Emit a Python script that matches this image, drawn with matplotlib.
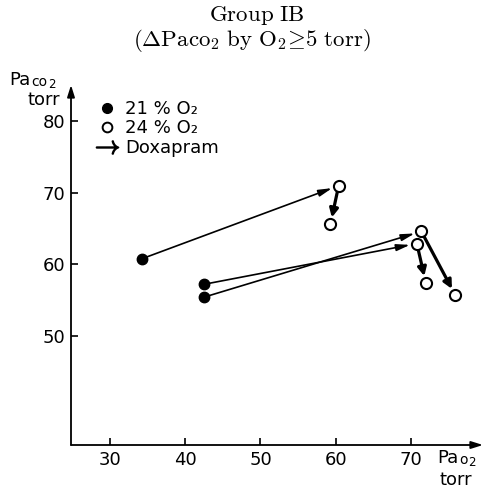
import matplotlib
matplotlib.use('Agg')
import matplotlib.pyplot as plt
from matplotlib.lines import Line2D

plt.rcParams['font.family'] = ['DejaVu Sans']
plt.rcParams['mathtext.fontset'] = 'cm'

# PaO2 / PaCO2 (torr)
pao2_21 = [34.3, 42.5, 42.5]
paco2_21 = [60.8, 57.2, 55.4]
pao2_24 = [60.4, 70.8, 71.4]
paco2_24 = [71.0, 62.9, 64.6]
pao2_doxa = [59.3, 72.0, 75.9]
paco2_doxa = [65.6, 57.4, 55.7]

xticks = [30, 40, 50, 60, 70]
yticks = [50, 60, 70, 80]

fig = plt.figure(figsize=(4.86, 4.90), dpi=100)
ax = fig.add_axes([71 / 486, 1 - 445 / 490, 412 / 486, 360 / 490])
ax.set_xlim(24.8, 79.6)
ax.set_ylim(34.7, 85.1)

for s in ['top', 'right', 'left', 'bottom']:
    ax.spines[s].set_visible(False)
# axes drawn as arrows
ax.annotate('', xy=(1, 0), xytext=(0, 0), xycoords='axes fraction',
            arrowprops=dict(arrowstyle='-|>,head_length=0.7,head_width=0.22',
                            lw=1.3, color='black', shrinkA=0, shrinkB=0))
ax.annotate('', xy=(0, 1), xytext=(0, 0), xycoords='axes fraction',
            arrowprops=dict(arrowstyle='-|>,head_length=0.7,head_width=0.22',
                            lw=1.3, color='black', shrinkA=0, shrinkB=0))

ax.set_xticks(xticks)
ax.set_yticks(yticks)
ax.tick_params(direction='in', length=5, width=1.2, labelsize=13, pad=4)

# thin arrows: 21% -> 24% O2, thick arrows: doxapram
for i in range(len(pao2_21)):
    ax.annotate('', xy=(pao2_24[i], paco2_24[i]), xytext=(pao2_21[i], paco2_21[i]),
                arrowprops=dict(arrowstyle='-|>,head_length=0.8,head_width=0.2',
                                lw=1.2, color='black', shrinkA=3, shrinkB=5), zorder=2)
    ax.annotate('', xy=(pao2_doxa[i], paco2_doxa[i]), xytext=(pao2_24[i], paco2_24[i]),
                arrowprops=dict(arrowstyle='-|>,head_length=0.5,head_width=0.25',
                                lw=2.3, color='black', shrinkA=4, shrinkB=5), zorder=2)

ax.plot(pao2_21, paco2_21, 'o', color='black', markersize=7.5, zorder=3, clip_on=False)
ax.plot(pao2_24 + pao2_doxa, paco2_24 + paco2_doxa, 'o', markerfacecolor='white',
        markeredgecolor='black', markeredgewidth=1.5, markersize=8, zorder=3, clip_on=False)

handles = [
    Line2D([], [], ls='none', marker='o', color='black', markersize=7),
    Line2D([], [], ls='none', marker='o', markerfacecolor='white',
           markeredgecolor='black', markeredgewidth=1.4, markersize=7),
    Line2D([], [], ls='none', marker=r'$\rightarrow$', color='black', markersize=16),
]
labels = ['21 % O\u2082', '24 % O\u2082', 'Doxapram']
ax.legend(handles, labels, loc='upper left', bbox_to_anchor=(87 / 486, 1 - 91 / 490),
          bbox_transform=fig.transFigure, frameon=False, fontsize=13,
          handlelength=1.2, handletextpad=0.4, labelspacing=0.08, borderpad=0)

# axis labels: "Pa" + smaller "co2"/"o2"
renderer = fig.canvas.get_renderer()


def gas_label(x, y, sub):
    t = fig.text(x / 486, 1 - y / 490, 'Pa', fontsize=13, ha='left', va='baseline')
    w = t.get_window_extent(renderer).width
    s = fig.text((x + w + 1) / 486, 1 - (y + 1) / 490, sub, fontsize=10,
                 ha='left', va='baseline')
    w2 = s.get_window_extent(renderer).width
    fig.text((x + w + w2 + 1.5) / 486, 1 - (y + 3) / 490, '2', fontsize=8.5,
             ha='left', va='baseline')


gas_label(9, 85, 'co')
fig.text(60 / 486, 1 - 105 / 490, 'torr', fontsize=13, ha='right', va='baseline')
gas_label(437, 463, 'o')
fig.text(456 / 486, 1 - 485 / 490, 'torr', fontsize=13, ha='center', va='baseline')

fig.text(257 / 486, 1 - 21 / 490, r'$\mathrm{Group\ IB}$', ha='center', va='baseline',
         fontsize=16.5)
fig.text(252 / 486, 1 - 46 / 490,
         r'$(\mathit{\Delta}\mathrm{Paco}_2\ \mathrm{by\ O}_2\!\geq\!5\ \mathrm{torr})$',
         ha='center', va='baseline', fontsize=16.5)

fig.savefig('out.png', dpi=100)
